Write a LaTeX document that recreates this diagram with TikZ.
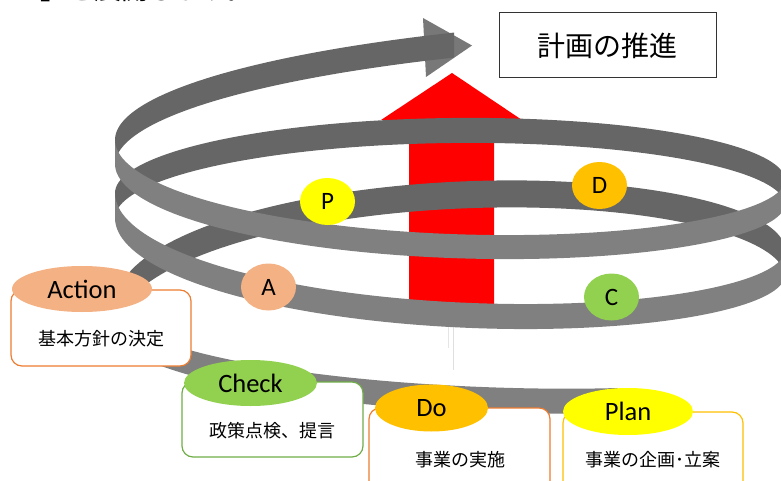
\documentclass[tikz,border=0pt]{standalone}
\usepackage{fontspec}
\setmainfont{Carlito}
\newfontfamily\jp{Noto Sans CJK JP}
\usetikzlibrary{shapes.geometric}
\definecolor{bk}{RGB}{102,102,102}
\definecolor{fr}{RGB}{128,128,128}
\definecolor{hd}{RGB}{120,120,120}
\definecolor{aor}{RGB}{244,177,131}
\definecolor{gold}{RGB}{255,192,0}
\definecolor{lgreen}{RGB}{146,208,80}
\definecolor{orline}{RGB}{237,125,49}
\definecolor{grline}{RGB}{112,173,71}
\definecolor{pyellow}{RGB}{255,255,0}
% ribbon: color, t start, t end, t base, y at base, y at base+180, signed bulge, width
\newcommand\ribbon[8]{%
  \fill[#1] plot[domain=#2:#3,samples=90,variable=\t]
    ({450-335*cos(\t)},{#5+(#6-#5)*(\t-#4)/180+(#7)*abs(sin(\t))})
    -- plot[domain=#3:#2,samples=90,variable=\t]
    ({450-335*cos(\t)},{#5+(#6-#5)*(\t-#4)/180+(#7)*abs(sin(\t))+#8})
    -- cycle;}
\tikzset{
  lbl/.style={ellipse, minimum width=55pt, minimum height=47pt, inner sep=0pt,
    font=\fontsize{25}{25}\selectfont},
  bigl/.style={ellipse, inner sep=0pt, font=\fontsize{26.5}{26.5}\selectfont},
  infobox/.style={draw, line width=1.2pt, rounded corners=11pt, fill=white, inner sep=0pt},
  jptext/.style={font=\jp\fontsize{18}{20}\selectfont, inner sep=0pt},
}
\begin{document}
\begin{tikzpicture}[x=1pt,y=-1pt]
\useasboundingbox (0,0) rectangle (781,481);
\clip (0,0) rectangle (781,481);
% cut-off text line at the top
\node[anchor=base west, font=\jp\fontsize{27}{27}\selectfont, inner sep=0pt] (toptext) at (13,0) {ル」を展開します。};
% red arrow (behind the spiral)
\fill[red] (409,310) -- (409,120) -- (381,120) -- (452,73) -- (522,120) -- (494,120) -- (494,310) -- cycle;
\draw[gray!25, line width=0.8pt] (453,327) -- (453,370);
\draw[gray!20, line width=0.8pt] (448,327) -- (448,348);
% arrow head of the spiral
\fill[hd] (423,18) -- (472,45.5) -- (426,77) -- cycle;
% back halves
\ribbon{bk}{0}{180}{0}{305}{250}{-95.5}{27}
\ribbon{bk}{0}{180}{0}{193}{180}{-68.5}{25}
\ribbon{bk}{0}{90.7}{0}{140}{24}{-49}{25}
% front halves
\ribbon{fr}{240}{360}{180}{362}{305}{52}{25}
\ribbon{fr}{180}{360}{180}{250}{193}{80.5}{25}
\ribbon{fr}{180}{360}{180}{180}{140}{74}{24}
% labels on the spiral
\node[lbl, fill=pyellow] (P) at (327.5,201.5) {P};
\node[lbl, fill=gold] (D) at (599.5,185.5) {D};
\node[lbl, fill=aor] (A) at (268.5,287) {A};
\node[lbl, fill=lgreen] (C) at (611.5,297) {C};
% title box
\node[draw=black!80, line width=1pt, minimum width=217pt, minimum height=65pt, inner sep=0pt,
  font=\jp\fontsize{28}{28}\selectfont] (title) at (607.5,45.5) {計画の推進};
% Action
\node[infobox, draw=orline, minimum width=180pt, minimum height=76pt] (actbox) at (101,328) {};
\node[jptext] (actt) at ([yshift=-11pt]actbox.center) {基本方針の決定};
\node[bigl, fill=aor, minimum width=140pt, minimum height=46pt] (act) at (82,289) {Action};
% Check
\node[infobox, draw=grline, minimum width=181pt, minimum height=75pt] (chkbox) at (272.5,419.5) {};
\node[jptext] (chkt) at ([yshift=-11.5pt]chkbox.center) {政策点検、提言};
\node[bigl, fill=lgreen, minimum width=133pt, minimum height=46pt] (chk) at (250.5,383) {Check};
% Do
\node[infobox, draw=orline, minimum width=181pt, minimum height=92pt] (dobox) at (459.5,454) {};
\node[jptext] (dot) at (460,460) {事業の実施};
\node[bigl, fill=gold, minimum width=113pt, minimum height=47pt] (do) at (431.5,408) {Do};
% Plan
\node[infobox, draw=gold, minimum width=180pt, minimum height=88pt] (planbox) at (653,456) {};
\node[jptext] (plant) at (653,460) {事業の企画･立案};
\node[bigl, fill=pyellow, minimum width=130pt, minimum height=47pt] (plan) at (628,411.5) {Plan};
\end{tikzpicture}
\end{document}
